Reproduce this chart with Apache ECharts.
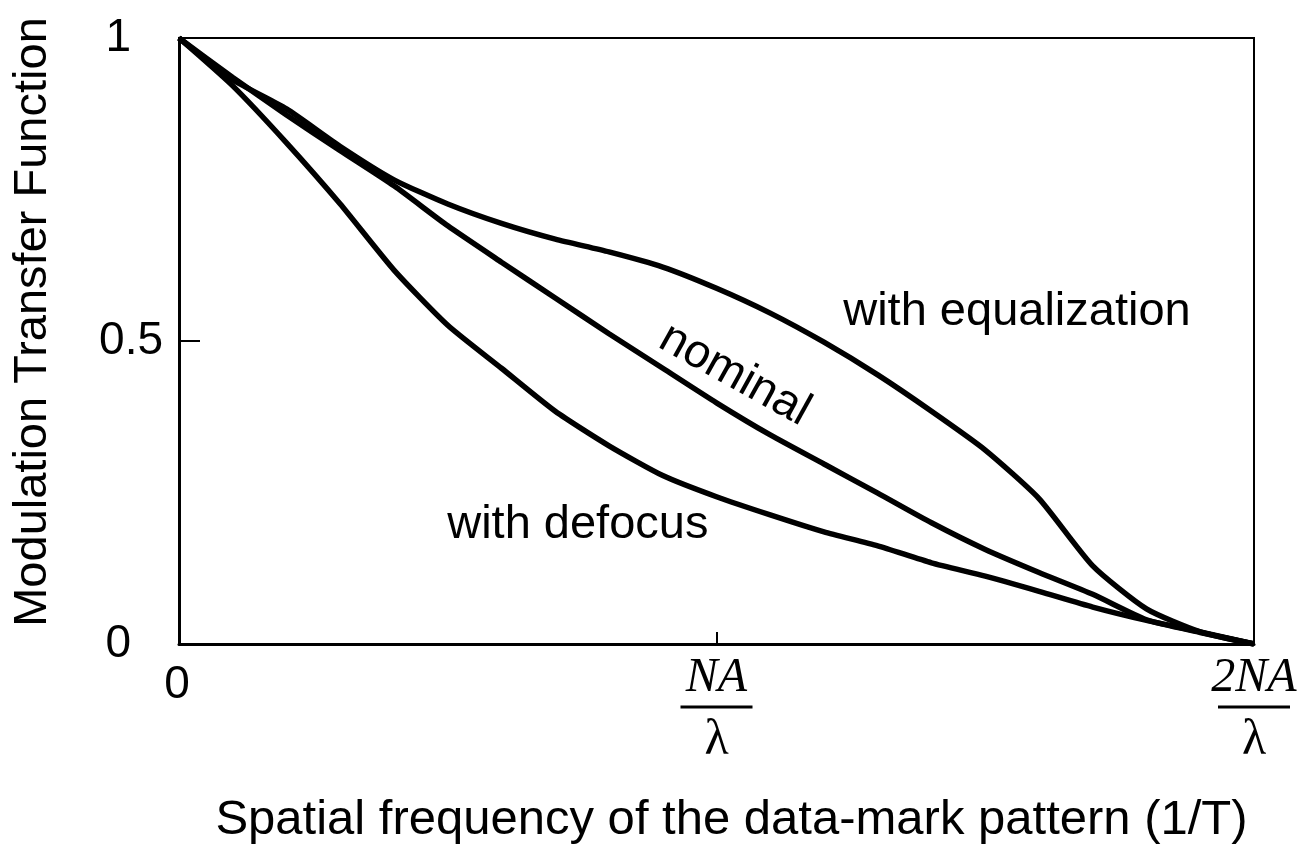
<!DOCTYPE html>
<html>
<head>
<meta charset="utf-8">
<title>Modulation Transfer Function</title>
<script src="https://cdn.jsdelivr.net/npm/echarts@6/dist/echarts.min.js"></script>
<style>
  html, body { margin: 0; padding: 0; background: #fff; }
  #chart { width: 1311px; height: 863px; }
</style>
</head>
<body>
<div id="chart"></div>
<script>
// Spatial frequency in units of NA/λ (0 … 2NA/λ)
const freq = [0, 0.1, 0.2, 0.3, 0.4, 0.5, 0.6, 0.7, 0.8, 0.9, 1.0,
              1.1, 1.2, 1.3, 1.4, 1.5, 1.6, 1.7, 1.8, 1.9, 2.0];

// MTF curves
const nominal = [1.000, 0.935, 0.873, 0.814, 0.756, 0.690, 0.630, 0.571, 0.512, 0.455, 0.398,
                 0.345, 0.297, 0.249, 0.200, 0.156, 0.118, 0.082, 0.040, 0.019, 0.000];
const withEqualization = [1.000, 0.931, 0.883, 0.821, 0.766, 0.726, 0.694, 0.668, 0.647, 0.622, 0.587,
                          0.546, 0.498, 0.444, 0.384, 0.320, 0.240, 0.129, 0.058, 0.020, 0.000];
const withDefocus = [1.000, 0.921, 0.827, 0.726, 0.617, 0.526, 0.455, 0.384, 0.327, 0.278, 0.243,
                     0.213, 0.185, 0.162, 0.134, 0.112, 0.087, 0.061, 0.039, 0.020, 0.000];

// Axis tick labels
const yTickLabels = { 0: '0', 0.5: '0.5', 1: '1' };
const xTickLabels = { 0: '0', 1: 'NA', 2: '2NA' };

// Curve annotations: [text, x, y, rotation in degrees]
const curveNotes = [
  ['with equalization', 1.559, 0.548, 0],
  ['nominal', 1.034, 0.444, -29],
  ['with defocus', 0.742, 0.196, 0]
];

const SANS = 'Liberation Sans, Arial, sans-serif';
const SERIF = 'Liberation Serif, Times New Roman, serif';

function pairs(ys) { return freq.map((x, i) => [x, ys[i]]); }

function curve(name, ys) {
  return {
    name: name,
    type: 'line',
    data: pairs(ys),
    showSymbol: false,
    smooth: 0.2,
    lineStyle: { color: '#000', width: 5.5 },
    animation: false,
    z: 3
  };
}

const chart = echarts.init(document.getElementById('chart'), null, { renderer: 'canvas' });

chart.setOption({
  backgroundColor: '#fff',
  animation: false,
  grid: {
    left: 179, top: 38, right: 57, bottom: 219,
    containLabel: false,
    outerBoundsMode: 'none',
    show: true, borderColor: '#000', borderWidth: 2, backgroundColor: 'transparent'
  },
  xAxis: {
    type: 'value',
    min: 0, max: 2, interval: 1,
    name: 'Spatial frequency of the data-mark pattern (1/T)',
    nameLocation: 'middle',
    nameGap: 152,
    nameTextStyle: { fontFamily: SANS, fontSize: 49, color: '#000', padding: [0, 0, 0, 30] },
    axisLine: { show: true, lineStyle: { color: '#000', width: 3 } },
    axisTick: { show: true, inside: true, length: 12, lineStyle: { color: '#000', width: 2 } },
    splitLine: { show: false },
    axisLabel: {
      margin: 12,
      color: '#000',
      formatter: function (v) {
        const t = xTickLabels[v];
        if (v === 0) return '{zero|' + t + '}';
        return '{num|' + t + '}\n{bar| }\n{lam|λ}';
      },
      rich: {
        zero: { fontFamily: SANS, fontSize: 46, color: '#000', padding: [6, 4, 0, 0] },
        num: { fontFamily: SERIF, fontStyle: 'italic', fontSize: 48, color: '#000', lineHeight: 44 },
        bar: { fontSize: 1, width: 72, height: 3, lineHeight: 14, backgroundColor: '#000' },
        lam: { fontFamily: SERIF, fontSize: 50, color: '#000', lineHeight: 54 }
      }
    }
  },
  yAxis: {
    type: 'value',
    min: 0, max: 1, interval: 0.5,
    name: 'Modulation Transfer Function',
    nameLocation: 'middle',
    nameGap: 122,
    nameRotate: 90,
    nameTextStyle: { fontFamily: SANS, fontSize: 47, color: '#000', padding: [0, 0, 0, 38] },
    axisLine: { show: true, lineStyle: { color: '#000', width: 3 } },
    axisTick: { show: true, inside: true, length: 21, lineStyle: { color: '#000', width: 2 } },
    splitLine: { show: false },
    axisLabel: {
      margin: 16,
      color: '#000',
      formatter: function (v) {
        const t = yTickLabels[v];
        return v === 0.5 ? '{half|' + t + '}' : '{end|' + t + '}';
      },
      rich: {
        half: { fontFamily: SANS, fontSize: 46, color: '#000' },
        end: { fontFamily: SANS, fontSize: 46, color: '#000', padding: [0, 32, 0, 0] }
      }
    }
  },
  series: [
    curve('nominal', nominal),
    curve('with equalization', withEqualization),
    curve('with defocus', withDefocus)
  ]
});

// Place the curve annotations in data coordinates
chart.setOption({
  graphic: curveNotes.map(function (n) {
    const p = chart.convertToPixel({ gridIndex: 0 }, [n[1], n[2]]);
    return {
      type: 'text',
      x: p[0], y: p[1],
      rotation: n[3] * Math.PI / 180,
      style: {
        text: n[0],
        fontFamily: SANS, fontSize: 47, fill: '#000',
        align: 'center', verticalAlign: 'middle'
      },
      z: 10
    };
  })
});
</script>
</body>
</html>
